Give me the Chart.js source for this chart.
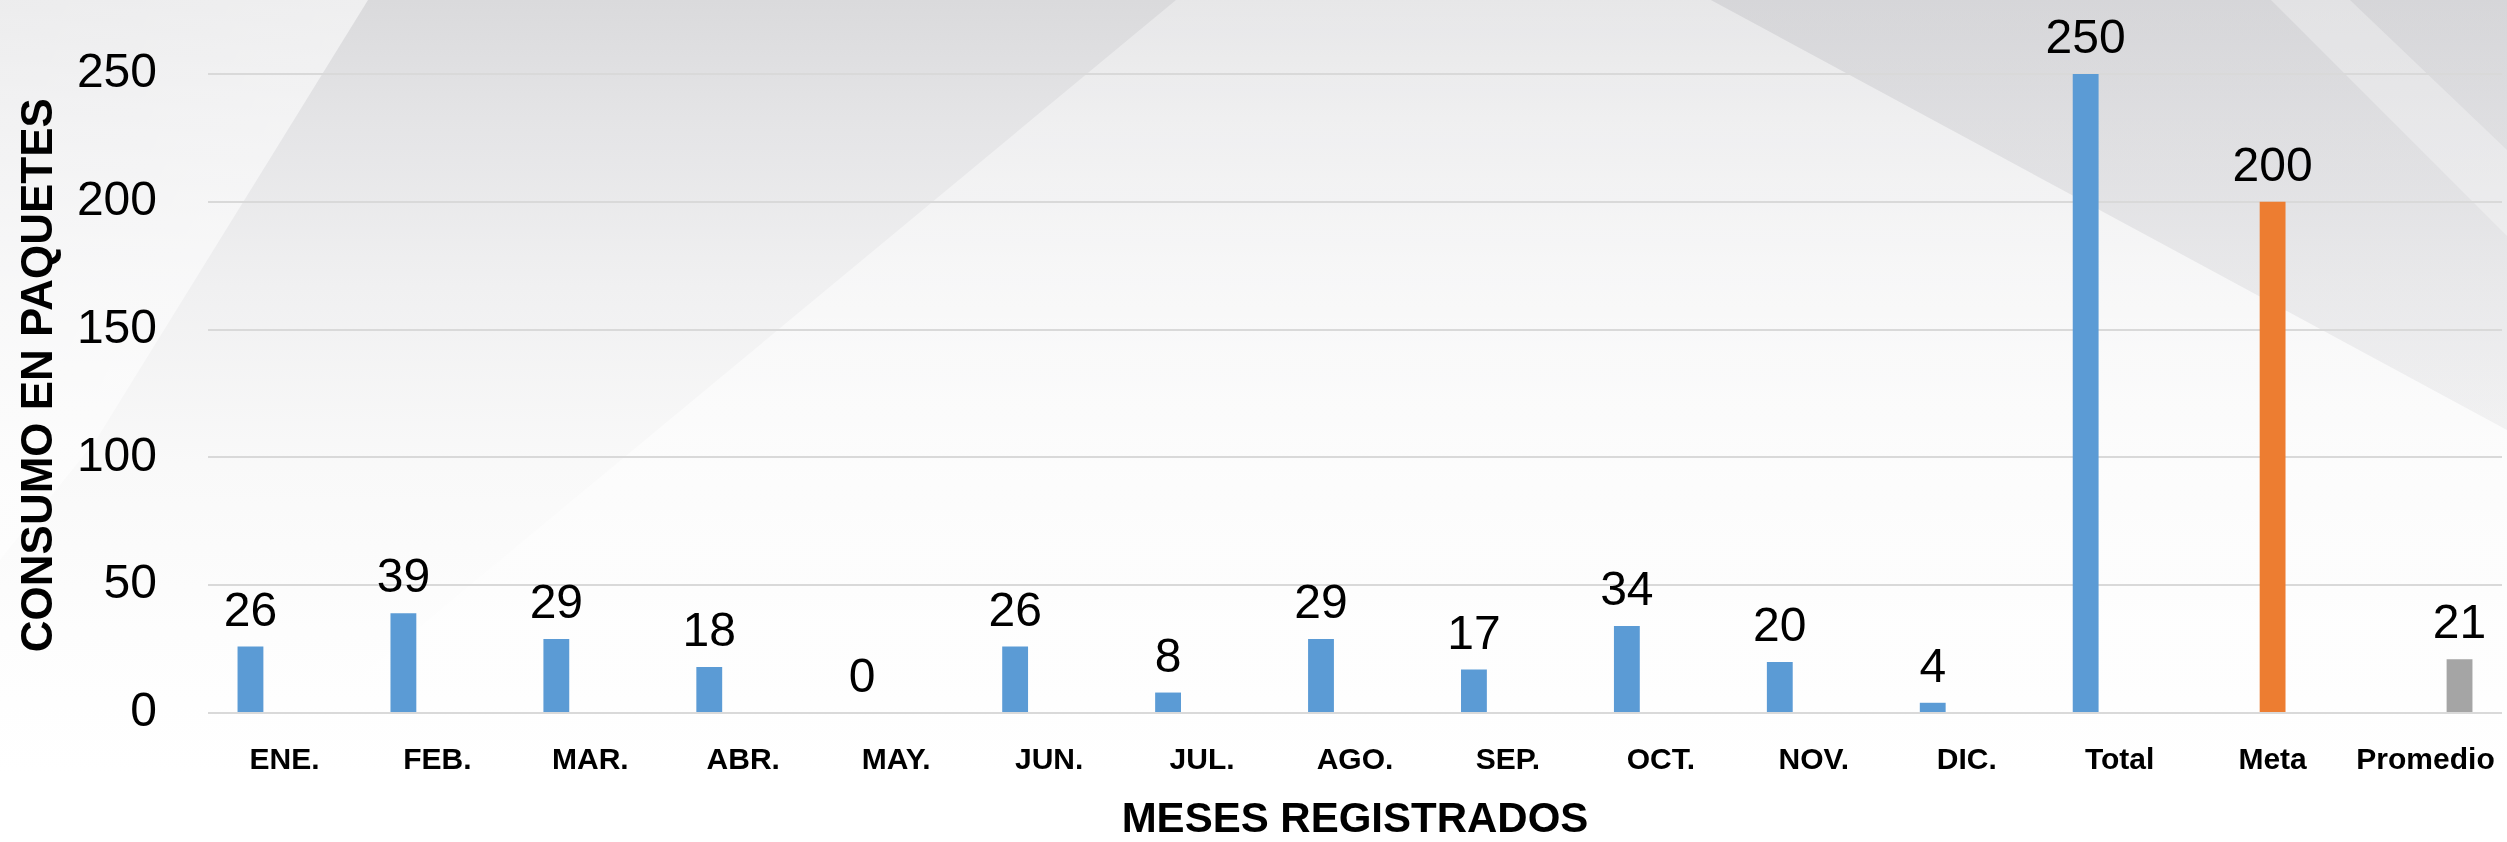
<!DOCTYPE html>
<html lang="es">
<head>
    <meta charset="UTF-8">
    <title>Consumo en paquetes</title>
    <script src="https://cdn.jsdelivr.net/npm/chart.js"></script>
    <style>
        html, body { margin: 0; padding: 0; }
        body { width: 2507px; height: 842px; overflow: hidden; position: relative;
               background: linear-gradient(180deg, #dadadc 0%, #e4e4e6 14%, #f0f0f1 34%, #f9f9f9 55%, #fdfdfd 75%, #ffffff 92%); }
        .shape { position: absolute; left: 0; top: 0; width: 2507px; height: 842px; }
        .left-light { clip-path: polygon(0 0, 368px 0, 96px 440px, 0 560px);
                      background: linear-gradient(115deg, rgba(255,255,255,0.5) 0%, rgba(255,255,255,0.8) 60%, rgba(255,255,255,0.35) 100%); }
        .mid-light { clip-path: polygon(1176px 0, 1711px 0, 2507px 430px, 2507px 842px, 160px 842px);
                     background: linear-gradient(180deg, rgba(255,255,255,0.35) 0%, rgba(255,255,255,0.55) 50%, rgba(255,255,255,0.2) 100%); }
        .right-gray { clip-path: polygon(1711px 0, 2507px 0, 2507px 430px);
                      background: linear-gradient(180deg, rgba(208,208,212,0.4) 0%, rgba(222,222,225,0.25) 50%, rgba(255,255,255,0) 100%); }
        .right-streak { clip-path: polygon(2271px 0, 2350px 0, 2507px 150px, 2507px 236px);
                        background: rgba(255,255,255,0.3); }
        .chart-box { position: absolute; left: 0; top: 0; width: 2507px; height: 842px; }
    </style>
</head>
<body>
    <div class="shape left-light"></div>
    <div class="shape mid-light"></div>
    <div class="shape right-gray"></div>
    <div class="shape right-streak"></div>
    <div class="chart-box">
        <canvas id="consumoChart"></canvas>
    </div>
    <script>
        const categorias = ['ENE.', 'FEB.', 'MAR.', 'ABR.', 'MAY.', 'JUN.', 'JUL.', 'AGO.', 'SEP.', 'OCT.', 'NOV.', 'DIC.', 'Total', 'Meta', 'Promedio'];
        const consumo = [26, 39, 29, 18, 0, 26, 8, 29, 17, 34, 20, 4, 250, null, null];
        const meta = [null, null, null, null, null, null, null, null, null, null, null, null, null, 200, null];
        const promedio = [null, null, null, null, null, null, null, null, null, null, null, null, null, null, 21];
        const ticksY = [0, 50, 100, 150, 200, 250];

        const fuente = "'Liberation Sans', Arial, sans-serif";

        // etiquetas de valor encima de cada barra
        const valueLabels = {
            id: 'valueLabels',
            afterDatasetsDraw(chart) {
                const ctx = chart.ctx;
                ctx.save();
                ctx.font = '48px ' + fuente;
                ctx.fillStyle = '#000';
                ctx.textAlign = 'center';
                ctx.textBaseline = 'alphabetic';
                chart.data.datasets.forEach((ds, i) => {
                    chart.getDatasetMeta(i).data.forEach((bar, j) => {
                        const v = ds.data[j];
                        if (v === null || v === undefined) return;
                        ctx.fillText(String(v), bar.x, bar.y - 21);
                    });
                });
                ctx.restore();
            }
        };

        new Chart(document.getElementById('consumoChart').getContext('2d'), {
            type: 'bar',
            data: {
                labels: categorias,
                datasets: [
                    { label: 'Consumo', data: consumo, backgroundColor: '#5B9BD5' },
                    { label: 'Meta', data: meta, backgroundColor: '#ED7D31' },
                    { label: 'Promedio', data: promedio, backgroundColor: '#A5A5A5' }
                ]
            },
            options: {
                responsive: true,
                maintainAspectRatio: false,
                animation: false,
                categoryPercentage: 0.667,
                barPercentage: 0.76,
                layout: { padding: { top: 74, right: 5, bottom: 1, left: 14 } },
                plugins: { legend: { display: false }, tooltip: { enabled: false } },
                scales: {
                    x: {
                        grid: { display: false, drawTicks: false },
                        border: { display: false },
                        ticks: { color: '#000', font: { family: fuente, size: 30, weight: 'bold' },
                                 padding: 30, maxRotation: 0, autoSkip: false },
                        title: { display: true, text: 'MESES REGISTRADOS', color: '#000',
                                 font: { family: fuente, size: 42, weight: 'bold', lineHeight: 1.0 },
                                 padding: { top: 18, bottom: 0 } },
                        afterFit(scale) { scale.height = 128; scale.paddingLeft = 0; scale.paddingRight = 0; }
                    },
                    y: {
                        min: 0,
                        max: 250,
                        afterBuildTicks(scale) { scale.ticks = ticksY.map(v => ({ value: v })); },
                        grid: { color: '#d9d9d9', lineWidth: 2, drawTicks: false },
                        border: { display: false },
                        ticks: { color: '#000', font: { family: fuente, size: 48 }, padding: 51 },
                        title: { display: true, text: '   CONSUMO EN PAQUETES', color: '#000',
                                 font: { family: fuente, size: 44, weight: 'bold', lineHeight: 1.0 },
                                 padding: { top: 4, bottom: 4 } },
                        afterFit(scale) { scale.width = 194; scale.paddingTop = 0; scale.paddingBottom = 0; }
                    }
                }
            },
            plugins: [valueLabels]
        });
    </script>
</body>
</html>
